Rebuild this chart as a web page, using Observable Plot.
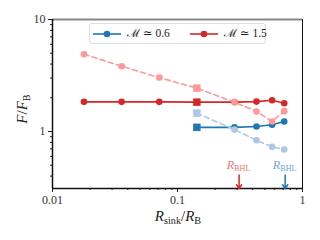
<!DOCTYPE html>
<html><head><meta charset="utf-8">
<script src="https://cdn.jsdelivr.net/npm/d3@7"></script>
<script src="https://cdn.jsdelivr.net/npm/@observablehq/plot@0.6"></script>
<style>
body{margin:0;background:#fff}
#wrap{position:relative;width:320px;height:240px;font-family:"Liberation Serif","DejaVu Serif",serif;color:#222}
.ov{position:absolute;white-space:nowrap;line-height:1}
sub{font-size:68%;vertical-align:baseline;position:relative;top:0.3em;font-style:normal}
</style></head><body><div id="wrap"></div>
<script>
// data
const rSink = [1/56, 1/28, 1/14, 1/7, 2/7, 3/7, 4/7, 5/7];
const lowMachSolid  = [null, null, null, 1.09, 1.09, 1.11, 1.15, 1.23];
const lowMachDashed = [null, null, null, 1.46, 1.04, 0.836, 0.73, 0.69];
const highMachSolid  = [1.84, 1.84, 1.84, 1.83, 1.83, 1.85, 1.90, 1.79];
const highMachDashed = [4.90, 3.83, 3.03, 2.44, 1.83, 1.51, 1.23, 1.52];
const squareIndex = 3;
const legendLabels = ["ℳ ≃ 0.6", "ℳ ≃ 1.5"];
const rBHLx = [0.311, 0.727];
const xMajor = [0.01, 0.1, 1];
const xMajorLabels = ["0.01", "0.1", "1"];
const xMinor = [0.02,0.03,0.04,0.05,0.06,0.07,0.08,0.09,0.2,0.3,0.4,0.5,0.6,0.7,0.8,0.9];
const yMajor = [1, 10];
const yMajorLabels = ["1", "10"];
const yMinor = [0.4,0.5,0.6,0.7,0.8,0.9,2,3,4,5,6,7,8,9];
const xDomain = [0.01, 1];
const yDomain = [0.31, 10];

const series = [
  {vals: highMachSolid, color: "#d62728", dash: null},
  {vals: lowMachSolid, color: "#1f77b4", dash: null},
  {vals: highMachDashed, color: "#ff9896", dash: "5,3.5"},
  {vals: lowMachDashed, color: "#aec7e8", dash: "5,3.5"}
];
const rows = s => rSink.map((x, i) => ({x, y: s.vals[i], i})).filter(d => d.y != null);

const marks = [
  Plot.axisX({ticks: xMajor, tickSize: 4, tickPadding: 3, tickFormat: d => xMajorLabels[xMajor.indexOf(d)], label: null, fontSize: 12, fill: "#333"}),
  Plot.axisX({ticks: xMinor, tickSize: 2, tickFormat: () => "", label: null}),
  Plot.axisY({ticks: yMajor, tickSize: 4, tickPadding: 3, tickFormat: d => yMajorLabels[yMajor.indexOf(d)], label: null, fontSize: 12, fill: "#333"}),
  Plot.axisY({ticks: yMinor, tickSize: 2, tickFormat: () => "", label: null}),
  Plot.ruleY([yDomain[1]], {stroke: "#888", strokeWidth: 2}),
  Plot.ruleX([xDomain[1]], {stroke: "#111", strokeWidth: 1}),
  Plot.ruleX([xDomain[0]], {stroke: "#111", strokeWidth: 1.5}),
  Plot.ruleY([yDomain[0]], {stroke: "#111", strokeWidth: 1.5})
];
for (const s of series) {
  const d = rows(s);
  marks.push(Plot.line(d, {x: "x", y: "y", stroke: s.color, strokeWidth: 1.6, strokeDasharray: s.dash}));
  marks.push(Plot.dot(d.filter(r => r.i !== squareIndex), {x: "x", y: "y", r: 3.3, fill: s.color, stroke: "none"}));
  marks.push(Plot.dot(d.filter(r => r.i === squareIndex), {x: "x", y: "y", r: 4.2, symbol: "square", fill: s.color, stroke: "none"}));
}
const arrows = [{x: rBHLx[0], color: "#d62728"}, {x: rBHLx[1], color: "#1f77b4"}];
marks.push(Plot.arrow(arrows, {x1: "x", x2: "x", y1: 0.41, y2: yDomain[0], stroke: "color", strokeWidth: 1.5, headLength: 5, headAngle: 70}));

const plot = Plot.plot({
  width: 320, height: 240,
  marginLeft: 52, marginRight: 18, marginTop: 19, marginBottom: 52,
  x: {type: "log", domain: xDomain, label: null},
  y: {type: "log", domain: yDomain, label: null},
  style: {fontFamily: "Liberation Serif, DejaVu Serif, serif", fontSize: "12px", background: "white", overflow: "visible"},
  marks
});
const wrap = document.getElementById("wrap");
wrap.appendChild(plot);
const sx = plot.scale("x");

function ov(html, css) {
  const d = document.createElement("div");
  d.className = "ov";
  d.innerHTML = html;
  Object.assign(d.style, css);
  wrap.appendChild(d);
  return d;
}
// axis labels
ov('<i>R</i><sub>sink</sub>/<i>R</i><sub>B</sub>', {left: "178px", top: "209px", fontSize: "15px", transform: "translateX(-50%)"});
ov('<i>F</i>/<i>F</i><sub>B</sub>', {left: "22px", top: "109px", fontSize: "15px", transform: "translate(-50%,-50%) rotate(-90deg)"});
// R_BHL labels
const labelColors = ["#e8787a", "#6aa5d6"];
rBHLx.forEach((x, k) => {
  ov('<i>R</i><sub>BHL</sub>', {left: sx.apply(x) + "px", top: "159px", fontSize: "12px", color: labelColors[k], transform: "translateX(-50%)"});
});
// legend
const legColors = ["#1f77b4", "#d62728"];
const leg = ov('', {left: "89px", top: "23px", width: "175px", height: "19px", border: "1px solid #ddd", borderRadius: "3px", background: "rgba(255,255,255,0.85)"});
const itemX = [3, 100];
legendLabels.forEach((t, k) => {
  const it = document.createElement("div");
  Object.assign(it.style, {position: "absolute", left: itemX[k] + "px", top: "0px", height: "19px", display: "flex", alignItems: "center", fontSize: "11.5px"});
  it.innerHTML = `<svg width="28" height="10" style="margin-right:6px"><line x1="0" x2="28" y1="5" y2="5" stroke="${legColors[k]}" stroke-width="1.6"/><circle cx="14" cy="5" r="3.3" fill="${legColors[k]}"/></svg><span>${t}</span>`;
  leg.appendChild(it);
});
</script></body></html>
